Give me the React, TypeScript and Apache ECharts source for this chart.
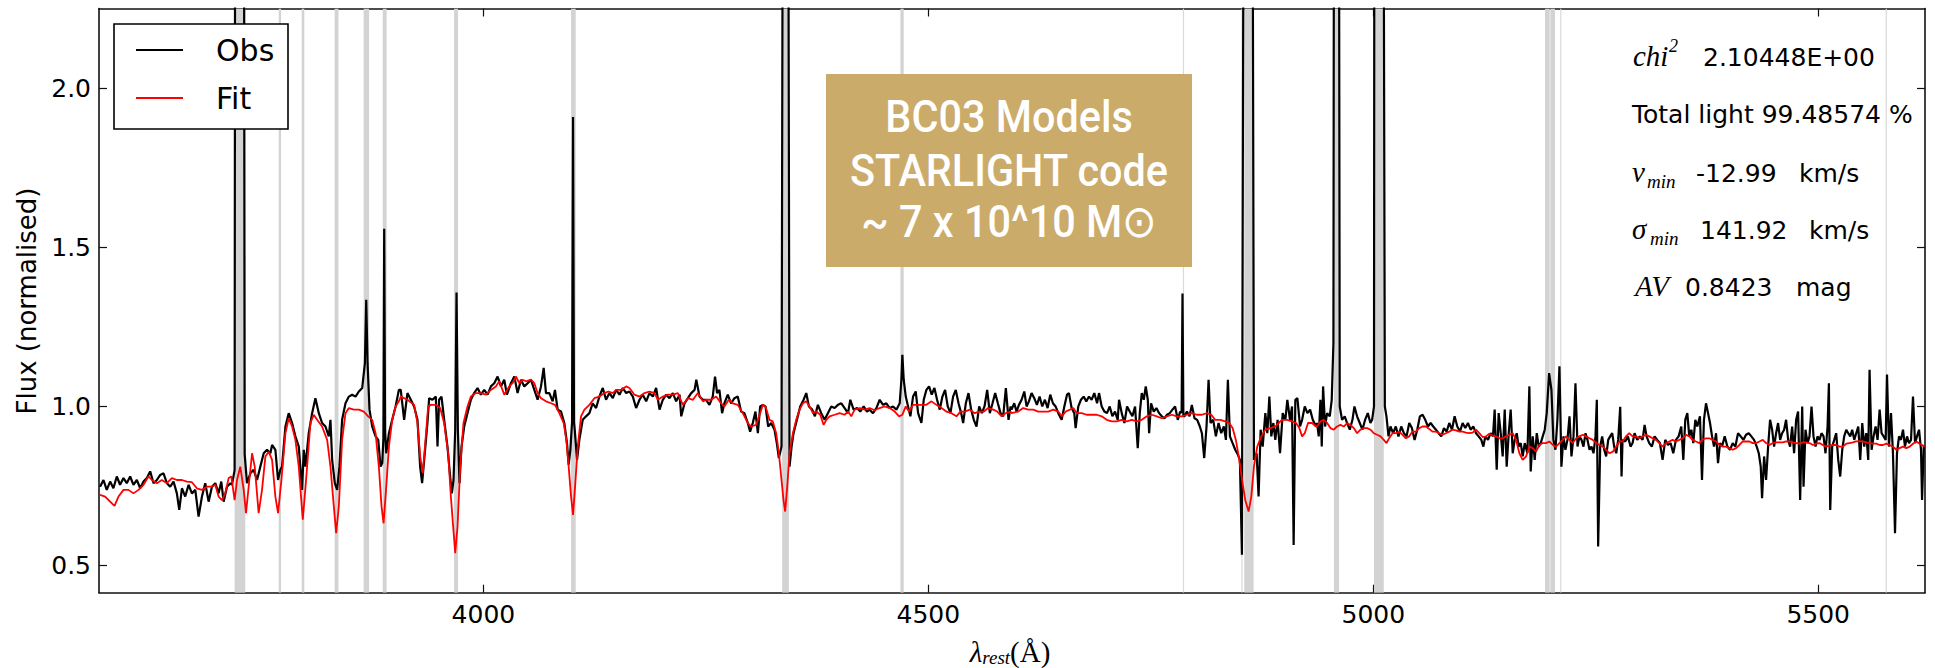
import React, { useEffect, useRef } from 'react';
import * as echarts from 'echarts';

// ---------- axis ranges & ticks ----------
const X_MIN = 3568;
const X_MAX = 5620;
const Y_MIN = 0.415;
const Y_MAX = 2.25;
const xTickValues = [4000, 4500, 5000, 5500];
const yTickValues = [0.5, 1.0, 1.5, 2.0];

// ---------- observed spectrum (wavelength Å, normalised flux) ----------
const obsBlue: [number, number][] = [
  [3569.2,0.748],[3573.0,0.769],[3576.7,0.738],[3580.5,0.764],[3584.2,0.743],[3588.0,0.780],[3591.7,0.754],[3595.5,0.775],[3599.2,0.759],[3603.0,0.780],
  [3606.7,0.754],[3610.5,0.769],[3614.3,0.743],[3618.0,0.764],[3621.8,0.775],[3625.5,0.796],[3629.3,0.759],[3633.0,0.769],[3636.8,0.785],[3640.5,0.790],
  [3644.3,0.759],[3648.0,0.748],[3651.8,0.764],[3655.5,0.727],[3658.2,0.675],[3661.2,0.743],[3664.9,0.717],[3668.7,0.754],[3672.4,0.727],[3676.2,0.738],
  [3679.9,0.654],[3683.7,0.717],[3687.4,0.759],[3691.2,0.701],[3694.9,0.748],[3698.7,0.759],[3702.4,0.727],[3705.4,0.764],[3708.1,0.701],[3711.8,0.748],
  [3715.6,0.759],[3717.4,0.754],[3720.4,0.80],[3721.2,3.5],[3730.6,3.5],[3731.7,0.85],[3734.3,0.759],[3738.1,0.790],[3741.8,0.801],[3745.6,0.769],
  [3749.3,0.811],[3753.1,0.853],[3756.8,0.864],[3760.6,0.853],[3762.5,0.879],[3766.2,0.864],[3769.2,0.769],[3771.8,0.801],[3773.7,0.811],[3777.5,0.937],
  [3781.2,0.979],[3785.0,0.948],[3788.7,0.906],[3792.5,0.874],[3796.2,0.738],[3798.1,0.864],[3800.0,0.811],[3803.7,0.916],[3807.5,0.979],[3811.2,1.026],
  [3815.0,0.979],[3818.7,0.948],[3822.5,0.937],[3826.2,0.906],[3828.1,0.958],[3830.0,0.832],[3833.0,0.759],[3835.6,0.738],[3838.2,0.811],[3841.2,0.958],
  [3845.0,1.010],[3848.8,1.031],[3852.5,1.037],[3856.3,1.031],[3860.0,1.047],[3863.8,1.058],[3866.8,1.136],[3868.3,1.335],[3869.8,1.136],[3872.0,0.990],
  [3875.0,0.937],[3878.8,0.906],[3881.8,0.895],[3884.4,0.811],[3886.3,0.822],[3887.6,0.90],[3888.5,1.558],[3889.5,0.92],[3890.8,0.853],[3893.8,0.916],
  [3897.5,0.958],[3901.3,1.000],[3905.0,1.052],
];
const obsCaHK: [number, number][] = [
  [3907.1,1.052],[3910.9,0.958],[3914.6,1.042],[3918.4,1.021],[3922.1,1.000],[3925.9,0.958],[3928.9,0.811],[3931.1,0.759],[3934.1,0.853],[3937.1,0.948],
  [3939.0,1.026],[3942.7,1.021],[3946.5,1.031],[3948.4,0.874],[3950.2,1.021],[3952.9,1.031],[3955.9,0.958],[3959.6,0.874],[3962.6,0.780],[3964.5,0.727],
  [3966.4,0.769],[3968.3,0.927],[3969.8,1.358],[3971.3,0.927],[3973.1,0.759],[3975.4,0.874],[3978.4,0.937],[3982.1,0.979],[3985.9,1.021],[3989.6,1.042],
  [3993.4,1.058],[3997.1,1.037],[4000.9,1.052],[4004.7,1.037],[4008.4,1.063],[4012.2,1.073],[4015.9,1.094],[4019.7,1.063],[4023.4,1.084],[4026.4,1.037],
  [4030.9,1.073],[4034.7,1.094],[4038.4,1.042],[4042.2,1.084],[4045.9,1.063],[4049.7,1.073],[4053.4,1.084],[4057.2,1.052],[4060.9,1.021],[4064.7,1.063],
  [4067.7,1.121],[4070.3,1.042],[4074.1,1.042],[4077.8,1.016],[4080.4,1.052],[4083.4,0.990],[4087.2,0.984],[4090.9,0.948],[4093.9,0.885],[4095.8,0.817],
  [4097.7,0.864],[4099.6,0.95],[4100.7,1.909],[4101.8,0.95],[4102.6,0.927],[4105.2,0.832],[4107.8,0.895],[4111.6,0.958],[4115.3,0.969],[4119.1,0.979],
  [4122.8,1.010],[4126.6,0.995],[4130.3,1.031],[4134.1,1.058],[4137.8,1.021],[4141.6,1.042],[4145.4,1.026],[4149.1,1.052],[4152.9,1.037],[4156.6,1.058],
  [4160.4,1.042],[4164.1,1.047],[4167.9,1.031],[4171.6,0.995],[4175.4,1.021],[4179.1,1.037],[4182.9,1.016],[4186.6,1.042],[4190.4,1.031],[4194.1,1.058],
  [4197.9,0.990],[4201.6,1.021],[4205.4,1.037],[4209.1,1.026],[4212.9,1.042],[4216.6,1.016],[4220.4,1.037],[4222.3,0.969],[4226.0,1.010],[4229.8,1.026],
  [4233.5,1.042],[4237.3,1.052],[4239.2,1.084],[4242.9,1.031],[4246.7,1.021],
];
const obsHgamma: [number, number][] = [
  [4250.2,1.021],[4254.0,1.005],[4257.7,1.031],[4260.3,1.094],[4262.6,1.042],[4265.2,1.052],[4268.2,0.979],[4270.8,1.010],[4274.6,1.037],[4278.3,1.010],
  [4282.1,1.026],[4285.8,1.031],[4289.6,0.984],[4293.3,0.979],[4297.1,0.948],[4299.7,0.921],[4302.7,0.948],[4305.7,0.984],[4308.4,0.916],[4311.0,1.000],
  [4314.0,1.005],[4317.0,1.000],[4320.0,0.937],[4323.4,0.948],[4327.1,0.927],[4329.7,0.885],[4332.0,0.838],[4335.0,0.874],[4337.0,3.5],[4342.0,3.5],
  [4344.0,0.811],[4346.3,0.874],[4348.5,0.916],[4352.3,0.958],[4356.0,1.000],[4359.8,1.021],[4362.8,1.042],[4365.8,1.000],[4369.5,0.990],[4372.5,0.969],
  [4375.9,1.005],[4379.6,0.979],[4383.4,0.958],[4387.1,0.979],[4390.9,1.000],[4394.7,0.995],[4398.4,1.005],[4402.2,1.010],[4405.9,0.995],[4409.7,0.979],
  [4412.3,1.021],[4416.0,0.990],[4419.8,0.995],[4423.5,0.984],[4427.3,1.000],[4431.0,0.984],[4434.0,0.990],[4437.8,0.979],[4441.6,0.995],[4445.3,1.021],
  [4449.1,1.005],[4452.8,1.010],[4456.6,0.995],[4460.3,1.000],[4464.1,0.990],[4467.8,1.010],[4469.7,1.084],[4470.8,1.162],[4472.3,1.084],[4474.6,1.031],
  [4477.2,1.000],[4479.8,0.969],[4482.8,1.031],[4485.8,1.047],[4488.5,0.979],[4492.2,0.948],[4494.8,1.021],[4497.8,1.052],[4500.8,1.063],[4503.8,1.037],
  [4506.8,1.058],[4509.8,1.021],[4512.8,0.990],[4515.8,1.031],[4518.8,1.052],[4521.8,1.000],[4524.8,0.979],[4527.8,1.031],[4530.8,1.052],[4533.9,1.010],
  [4536.9,0.979],[4539.1,0.948],[4542.1,1.010],[4545.1,1.042],[4548.1,0.990],[4551.1,0.958],[4554.1,0.937],[4557.1,1.000],[4560.1,0.979],[4563.1,1.000],
  [4566.1,1.052],[4569.1,0.979],[4572.1,1.010],[4575.1,1.042],[4578.1,1.010],[4581.1,0.979],[4584.1,0.969],[4587.1,1.058],[4590.1,0.958],[4592.4,1.000],
];
const obsHbeta: [number, number][] = [
  [4593.5,0.990],[4596.5,1.010],[4599.1,0.984],[4601.8,1.005],[4604.8,1.021],[4607.8,1.047],[4610.4,1.000],[4613.0,1.016],[4616.0,1.042],[4619.0,1.026],
  [4622.0,1.005],[4625.0,1.031],[4628.0,1.000],[4631.0,1.021],[4634.0,0.995],[4637.0,1.037],[4640.0,1.010],[4643.0,1.000],[4646.0,0.979],[4649.8,0.958],
  [4652.8,1.000],[4655.8,1.037],[4658.0,1.042],[4661.0,0.995],[4664.0,0.979],[4665.5,0.932],[4668.5,1.000],[4671.5,1.021],[4674.5,1.031],[4677.5,1.016],
  [4680.5,1.031],[4683.5,1.021],[4686.5,1.042],[4689.6,1.010],[4691.8,1.042],[4694.8,1.000],[4697.8,0.984],[4700.8,0.979],[4703.8,1.000],[4706.8,0.969],
  [4709.8,0.984],[4712.8,0.958],[4714.3,1.021],[4717.3,0.979],[4720.3,0.948],[4723.3,1.000],[4726.3,0.984],[4729.3,0.969],[4732.3,1.000],[4735.3,0.869],
  [4737.6,0.979],[4739.8,1.042],[4742.1,1.021],[4744.3,1.063],[4746.6,1.021],[4748.1,0.916],[4750.3,1.010],[4753.3,0.984],[4756.3,0.995],[4759.3,0.979],
  [4762.3,0.969],[4765.3,0.963],[4768.3,0.974],[4771.3,0.979],[4774.3,0.990],[4777.3,1.000],[4780.3,0.958],[4783.0,0.984],[4784.6,0.980],[4785.6,1.355],
  [4786.6,0.970],[4787.9,0.969],[4790.5,0.984],[4793.5,0.969],[4796.1,1.005],[4799.1,0.963],[4802.1,0.958],[4805.1,0.937],[4807.4,0.916],[4810.0,0.838],
  [4812.6,0.937],[4814.9,1.084],[4817.1,0.948],[4820.1,0.958],[4823.1,0.906],[4826.1,0.948],[4829.1,0.916],[4832.1,0.937],[4834.4,0.895],[4836.6,1.084],
  [4838.9,0.906],[4841.9,0.885],[4844.9,0.864],[4847.9,0.848],[4850.1,0.832],[4852.4,0.534],[4855.3,4.0],[4863.3,4.0],[4865.9,0.832],[4868.9,0.853],
  [4871.1,0.717],[4873.4,0.927],[4875.7,0.874],[4878.7,0.979],[4880.9,0.916],[4883.2,1.031],[4885.4,0.906],[4887.7,0.948],[4889.9,0.895],[4892.5,0.958],
  [4895.2,0.853],[4898.2,0.979],[4901.2,0.958],[4903.4,1.021],[4906.4,0.958],[4908.7,1.000],[4910.5,0.565],[4912.4,1.021],[4914.7,1.026],[4917.7,0.937],
  [4920.0,0.958],[4923.0,1.000],[4926.0,0.979],[4929.0,0.990],[4932.0,0.958],[4935.7,0.937],
];
const obsOIII: [number, number][] = [
  [4936.8,0.948],[4938.7,0.906],[4940.6,1.021],[4942.1,0.874],[4943.6,1.063],[4945.8,0.937],[4948.1,0.979],[4951.1,0.969],[4953.3,1.021],[4955.2,1.20],
  [4956.3,4.0],[4960.8,4.0],[4962.3,1.000],[4964.9,0.958],[4967.9,0.969],[4970.6,0.948],[4973.6,0.927],[4976.6,0.958],[4978.8,1.000],[4981.8,0.969],
  [4984.8,0.948],[4987.8,0.927],[4990.8,0.958],[4993.8,0.979],[4996.8,0.948],[4998.7,0.958],[5000.8,1.0],[5001.5,4.0],[5010.5,4.0],[5013.0,1.000],
  [5014.8,0.969],[5017.1,0.906],[5019.3,0.937],[5022.3,0.916],[5025.3,0.937],[5028.3,0.906],[5031.4,0.937],[5034.4,0.916],[5037.4,0.906],[5040.4,0.948],
  [5043.4,0.932],[5046.4,0.895],[5049.4,0.927],[5052.4,0.969],[5055.4,0.974],[5058.4,0.958],[5061.4,0.937],[5064.4,0.948],[5067.4,0.937],[5070.4,0.927],
  [5073.4,0.916],[5076.4,0.906],[5079.4,0.932],[5082.4,0.921],[5085.4,0.948],[5088.4,0.927],[5091.4,0.969],[5094.4,0.937],[5097.4,0.921],[5100.4,0.948],
  [5103.4,0.932],[5106.4,0.948],[5109.4,0.927],[5112.4,0.937],[5115.4,0.916],[5118.4,0.906],[5121.4,0.895],[5123.7,0.874],[5125.9,0.906],[5128.9,0.895],
  [5131.9,0.916],[5134.5,0.906],[5136.4,0.990],[5138.7,0.801],[5140.9,0.979],[5143.2,0.916],[5145.4,0.843],[5147.7,0.990],[5149.9,0.811],[5152.2,0.916],
  [5154.4,0.990],[5156.7,0.853],[5158.9,0.895],[5161.2,0.916],[5163.4,0.874],[5165.7,0.885],[5167.9,0.843],[5170.2,0.885],[5173.2,0.853],[5175.4,1.063],
  [5176.9,0.796],[5179.2,0.906],[5181.4,0.832],[5183.7,0.916],[5185.9,0.874],[5188.2,0.885],[5190.4,0.906],[5192.7,0.927],[5194.9,0.979],[5197.6,1.105],
  [5200.2,1.052],[5202.4,0.895],[5204.7,0.864],[5206.9,0.958],[5209.2,1.126],[5211.4,0.811],[5213.7,0.906],[5215.9,0.864],[5218.2,0.895],[5220.5,0.969],
  [5222.7,0.843],[5225.0,0.906],[5227.2,1.073],[5229.5,0.874],[5231.7,0.906],[5234.0,0.895],[5236.2,0.874],[5238.5,0.916],[5240.7,0.895],[5243.0,0.864],
  [5245.2,0.874],[5247.5,0.853],[5249.7,0.906],[5251.2,1.021],[5252.7,0.560],[5255.0,0.874],[5257.2,0.906],[5259.5,0.864],[5261.7,0.843],[5264.0,0.895],
  [5266.2,0.906],[5268.5,0.916],[5270.7,0.874],[5273.0,0.853],[5275.2,0.895],[5277.5,0.999],[5279.0,0.780],
];
const obsRed: [number, number][] = [
  [5280.1,0.895],[5283.1,0.890],[5286.1,0.906],[5289.1,0.874],[5291.4,0.885],[5293.6,0.916],[5296.6,0.895],[5299.6,0.906],[5302.6,0.895],[5304.9,0.942],
  [5307.1,0.906],[5310.1,0.885],[5313.1,0.874],[5316.1,0.906],[5319.1,0.895],[5322.1,0.885],[5325.1,0.832],[5328.1,0.895],[5331.1,0.879],[5334.1,0.885],
  [5337.1,0.853],[5340.1,0.895],[5343.1,0.906],[5346.1,0.937],[5348.4,0.832],[5350.6,0.958],[5352.9,0.979],[5355.1,0.906],[5357.4,0.927],[5359.6,0.885],
  [5361.9,0.958],[5364.1,0.937],[5367.1,0.969],[5369.4,0.769],[5371.6,0.958],[5373.9,1.010],[5376.2,0.979],[5378.4,0.948],[5380.7,0.906],[5382.9,0.874],
  [5385.2,0.916],[5387.4,0.822],[5389.7,0.885],[5391.9,0.874],[5394.9,0.906],[5397.9,0.874],[5400.9,0.864],[5403.9,0.885],[5406.9,0.874],[5409.9,0.916],
  [5412.9,0.906],[5415.9,0.895],[5418.9,0.911],[5421.9,0.916],[5424.9,0.906],[5427.9,0.895],[5430.9,0.874],[5433.2,0.853],[5435.4,0.811],[5436.9,0.712],
  [5439.2,0.843],[5441.4,0.769],[5443.7,0.874],[5445.9,0.958],[5448.2,0.927],[5450.4,0.874],[5452.7,0.916],[5454.9,0.948],[5457.2,0.895],[5459.4,0.916],
  [5461.7,0.927],[5463.9,0.958],[5466.2,0.895],[5468.4,0.874],[5470.7,0.937],[5472.9,0.853],[5475.2,0.958],[5477.4,0.984],[5479.7,0.706],[5482.0,1.000],
  [5483.5,0.748],[5485.7,0.927],[5488.0,0.885],[5490.2,0.906],[5492.5,1.000],[5494.7,0.906],[5497.0,0.874],[5499.2,0.906],[5501.5,0.895],[5503.7,0.916],
  [5506.0,0.906],[5508.2,0.853],[5510.5,0.937],[5512.0,1.073],[5513.5,0.675],[5515.7,0.874],[5518.0,0.895],[5520.2,0.916],[5522.5,0.832],[5524.7,0.780],
  [5527.0,0.864],[5529.2,0.906],[5531.5,0.927],[5533.7,0.916],[5536.0,0.906],[5538.2,0.927],[5540.5,0.895],[5542.7,0.916],[5545.0,0.937],[5547.2,0.832],
  [5549.5,0.948],[5551.7,0.874],[5554.0,0.916],[5556.2,0.832],[5557.7,1.115],[5560.0,0.864],[5562.2,0.906],[5564.5,0.937],[5566.7,0.895],[5569.0,0.990],
  [5571.2,0.916],[5573.5,0.906],[5575.8,0.895],[5577.3,1.100],[5579.5,0.874],[5581.8,0.979],[5584.0,0.853],[5586.3,0.602],[5588.5,0.853],[5590.8,0.906],
  [5593.0,0.895],[5595.3,0.927],[5597.5,0.874],[5599.8,0.906],[5602.0,0.885],[5604.3,0.895],[5606.5,1.031],[5608.8,0.885],[5611.0,0.906],[5613.3,0.927],
  [5615.5,0.864],[5616.7,0.706],[5618.6,0.874],[5619.7,0.874],
];

// ---------- STARLIGHT fit ----------
const fitBlue: [number, number][] = [
  [3569.2,0.722],[3574.9,0.717],[3580.5,0.701],[3585.4,0.688],[3589.9,0.717],[3595.5,0.738],[3601.1,0.738],[3606.7,0.727],[3612.4,0.738],[3618.0,0.754],
  [3623.6,0.780],[3627.4,0.769],[3633.0,0.759],[3638.6,0.769],[3644.3,0.759],[3649.9,0.775],[3655.5,0.769],[3661.2,0.769],[3666.8,0.764],[3672.4,0.762],
  [3678.0,0.743],[3683.7,0.738],[3689.3,0.748],[3694.9,0.748],[3698.7,0.754],[3702.4,0.717],[3706.2,0.706],[3709.9,0.727],[3713.7,0.775],[3716.7,0.780],
  [3720.4,0.706],[3723.1,0.769],[3726.8,0.811],[3730.6,0.738],[3733.2,0.665],[3736.2,0.748],[3740.0,0.853],[3743.0,0.811],[3747.4,0.665],[3751.2,0.738],
  [3755.0,0.843],[3758.7,0.858],[3762.5,0.832],[3766.2,0.717],[3769.2,0.665],[3773.0,0.769],[3777.5,0.916],[3781.2,0.963],[3785.0,0.937],[3788.7,0.895],
  [3792.5,0.811],[3797.0,0.644],[3800.7,0.769],[3805.6,0.948],[3809.4,0.974],[3813.1,0.958],[3818.7,0.937],[3824.4,0.895],[3828.1,0.811],[3831.9,0.686],
  [3834.5,0.602],[3837.5,0.686],[3841.2,0.895],[3845.0,0.979],[3848.8,0.995],[3854.4,0.990],[3860.0,0.990],[3865.6,0.984],[3870.5,0.969],[3875.0,0.958],
  [3878.8,0.916],[3882.5,0.811],[3885.5,0.686],[3887.8,0.633],[3890.8,0.748],[3893.8,0.874],[3897.5,0.958],[3901.3,1.000],[3905.0,1.016],
];
const fitCaHK: [number, number][] = [
  [3907.1,1.031],[3914.6,1.021],[3922.1,1.005],[3925.9,0.948],[3928.9,0.843],[3931.9,0.790],[3934.9,0.895],[3937.9,1.000],[3940.9,1.005],[3946.5,1.005],
  [3951.4,0.995],[3955.9,0.948],[3960.4,0.853],[3963.4,0.717],[3966.0,0.623],[3968.3,0.539],[3970.9,0.623],[3973.9,0.811],[3977.6,0.948],[3982.1,1.000],
  [3985.9,1.031],[3991.5,1.042],[3997.1,1.042],[4002.8,1.037],[4008.4,1.052],[4014.0,1.063],[4017.8,1.079],[4023.4,1.037],[4029.0,1.063],[4032.8,1.073],
  [4036.5,1.094],[4040.3,1.073],[4044.0,1.084],[4047.8,1.079],[4053.4,1.084],[4057.2,1.073],[4060.9,1.042],[4064.7,1.026],[4070.3,1.016],[4075.9,1.010],
  [4080.4,1.005],[4085.3,0.979],[4090.2,0.948],[4093.2,0.895],[4095.8,0.811],[4098.5,0.717],[4100.7,0.659],[4103.0,0.748],[4106.0,0.874],[4109.7,0.969],
  [4113.5,0.990],[4119.1,1.005],[4124.7,1.026],[4130.3,1.031],[4136.0,1.042],[4140.5,1.047],[4145.4,1.042],[4149.1,1.052],[4154.7,1.052],[4160.4,1.063],
  [4164.1,1.058],[4169.7,1.037],[4175.4,1.031],[4181.0,1.042],[4186.6,1.047],[4192.3,1.042],[4196.0,1.021],[4201.6,1.031],[4207.3,1.037],[4212.9,1.037],
  [4218.5,1.042],[4224.1,1.005],[4229.8,1.026],[4235.4,1.021],[4241.0,1.042],[4246.7,1.016],
];
const fitHgamma: [number, number][] = [
  [4250.2,1.021],[4255.8,1.021],[4261.5,1.031],[4267.1,1.010],[4270.8,1.000],[4275.7,1.021],[4280.2,1.010],[4285.8,1.005],[4291.5,0.979],[4297.1,0.948],
  [4300.9,0.937],[4306.5,0.942],[4311.0,0.979],[4314.0,1.005],[4317.0,1.000],[4321.5,0.958],[4325.2,0.953],[4329.0,0.916],[4332.0,0.853],[4335.0,0.769],
  [4337.2,0.706],[4339.1,0.670],[4341.4,0.748],[4344.0,0.853],[4347.8,0.916],[4351.5,0.958],[4355.3,0.990],[4359.0,1.010],[4362.8,1.016],[4366.5,1.000],
  [4370.3,0.979],[4374.0,0.984],[4378.5,0.974],[4382.3,0.942],[4385.3,0.958],[4389.0,0.969],[4394.7,0.974],[4400.3,0.979],[4405.9,0.974],[4409.7,0.984],
  [4413.4,0.969],[4417.2,0.990],[4422.8,0.995],[4428.4,0.990],[4434.0,0.995],[4439.7,0.988],[4445.3,0.995],[4450.9,1.000],[4456.6,0.995],[4462.2,0.984],
  [4467.1,0.969],[4470.8,0.974],[4474.6,1.000],[4478.3,0.984],[4482.8,1.005],[4487.3,1.005],[4492.2,1.005],[4497.8,1.005],[4503.5,1.016],[4509.1,1.005],
  [4514.7,0.995],[4520.3,0.984],[4526.0,0.979],[4531.6,0.969],[4536.1,0.984],[4541.0,0.984],[4546.6,0.990],[4552.2,0.979],[4557.1,0.984],[4562.4,0.984],
  [4567.2,0.995],[4572.9,0.990],[4577.4,0.984],[4582.3,0.969],[4587.1,0.979],[4592.4,0.984],
];
const fitHbeta: [number, number][] = [
  [4593.5,0.979],[4601.0,0.984],[4606.6,0.995],[4612.3,0.990],[4617.9,0.990],[4623.5,0.984],[4629.1,0.984],[4634.8,0.984],[4640.4,0.990],[4646.0,0.984],
  [4649.8,0.969],[4654.3,0.984],[4659.2,0.990],[4662.9,0.995],[4666.7,0.979],[4672.3,0.979],[4677.9,0.974],[4683.5,0.974],[4689.2,0.974],[4694.8,0.969],
  [4700.4,0.958],[4706.1,0.953],[4711.7,0.953],[4717.3,0.958],[4723.0,0.953],[4728.6,0.958],[4734.2,0.953],[4739.8,0.958],[4745.5,0.969],[4751.1,0.974],
  [4756.7,0.969],[4762.3,0.963],[4768.0,0.969],[4773.6,0.974],[4779.2,0.969],[4784.9,0.969],[4790.5,0.974],[4796.1,0.979],[4801.7,0.974],[4807.4,0.974],
  [4813.0,0.979],[4817.9,0.974],[4822.4,0.958],[4828.0,0.958],[4833.6,0.953],[4838.1,0.948],[4841.9,0.932],[4845.6,0.895],[4849.4,0.832],[4853.1,0.759],
  [4856.1,0.706],[4859.9,0.670],[4862.9,0.717],[4865.9,0.811],[4869.6,0.874],[4874.2,0.906],[4878.7,0.927],[4884.3,0.932],[4889.9,0.937],[4893.7,0.948],
  [4897.4,0.958],[4903.0,0.958],[4908.7,0.953],[4913.2,0.948],[4916.9,0.932],[4920.0,0.906],[4923.0,0.916],[4926.7,0.948],[4931.2,0.948],[4935.7,0.937],
];
const fitOIII: [number, number][] = [
  [4936.8,0.937],[4940.6,0.953],[4944.3,0.958],[4948.1,0.948],[4951.8,0.932],[4955.6,0.927],[4959.3,0.937],[4963.1,0.942],[4966.8,0.937],[4970.6,0.948],
  [4974.3,0.942],[4978.1,0.932],[4981.8,0.916],[4985.6,0.927],[4989.3,0.932],[4993.1,0.932],[4996.8,0.927],[5000.6,0.916],[5004.3,0.911],[5008.1,0.906],
  [5011.8,0.895],[5014.8,0.885],[5017.8,0.900],[5021.6,0.916],[5025.3,0.916],[5029.1,0.921],[5032.9,0.911],[5036.6,0.900],[5040.4,0.906],[5044.1,0.921],
  [5047.9,0.921],[5051.6,0.932],[5055.4,0.937],[5059.1,0.937],[5062.9,0.929],[5066.6,0.921],[5070.4,0.921],[5074.1,0.916],[5077.9,0.911],[5081.6,0.916],
  [5085.4,0.921],[5089.1,0.927],[5092.9,0.925],[5096.6,0.921],[5100.4,0.921],[5104.1,0.918],[5107.9,0.916],[5111.6,0.918],[5115.4,0.927],[5119.1,0.916],
  [5122.9,0.904],[5126.7,0.906],[5130.4,0.914],[5134.2,0.908],[5137.9,0.906],[5141.7,0.900],[5145.4,0.900],[5149.2,0.906],[5152.9,0.911],[5156.7,0.916],
  [5160.4,0.895],[5164.2,0.853],[5167.9,0.832],[5171.7,0.843],[5175.4,0.874],[5179.2,0.869],[5182.9,0.858],[5186.7,0.879],[5190.4,0.885],[5194.2,0.885],
  [5197.9,0.890],[5201.7,0.879],[5205.4,0.874],[5209.2,0.885],[5212.9,0.895],[5216.7,0.906],[5220.5,0.895],[5224.2,0.885],[5228.0,0.900],[5231.7,0.906],
  [5235.5,0.911],[5239.2,0.906],[5243.0,0.900],[5246.7,0.895],[5250.5,0.885],[5254.2,0.879],[5258.0,0.874],[5261.7,0.864],[5265.5,0.853],[5269.2,0.858],
  [5273.0,0.874],[5276.7,0.890],
];
const fitRed: [number, number][] = [
  [5280.1,0.890],[5283.9,0.906],[5287.6,0.916],[5291.4,0.906],[5295.1,0.906],[5298.9,0.900],[5302.6,0.906],[5306.4,0.911],[5310.1,0.906],[5313.9,0.900],
  [5317.6,0.895],[5321.4,0.885],[5325.1,0.874],[5328.9,0.885],[5332.6,0.890],[5336.4,0.895],[5340.1,0.890],[5343.9,0.895],[5347.6,0.900],[5351.4,0.911],
  [5355.1,0.906],[5358.9,0.895],[5362.6,0.890],[5366.4,0.885],[5370.1,0.897],[5373.9,0.900],[5377.7,0.900],[5381.4,0.895],[5385.2,0.890],[5388.9,0.879],
  [5392.7,0.874],[5396.4,0.874],[5400.2,0.869],[5403.9,0.864],[5407.7,0.869],[5411.4,0.879],[5415.2,0.890],[5418.9,0.890],[5422.7,0.890],[5426.4,0.885],
  [5430.2,0.885],[5433.9,0.890],[5437.7,0.895],[5441.4,0.885],[5445.2,0.879],[5448.9,0.885],[5452.7,0.887],[5456.4,0.887],[5460.2,0.887],[5463.9,0.890],
  [5467.7,0.890],[5471.4,0.887],[5475.2,0.885],[5479.0,0.883],[5482.7,0.887],[5486.5,0.887],[5490.2,0.885],[5494.0,0.879],[5497.7,0.883],[5501.5,0.885],
  [5505.2,0.879],[5509.0,0.874],[5512.7,0.877],[5516.5,0.879],[5520.2,0.879],[5524.0,0.874],[5527.7,0.874],[5531.5,0.883],[5535.2,0.885],[5539.0,0.887],
  [5542.7,0.890],[5546.5,0.891],[5550.2,0.890],[5554.0,0.887],[5557.7,0.885],[5561.5,0.883],[5565.2,0.883],[5569.0,0.879],[5572.8,0.879],[5576.5,0.883],
  [5580.3,0.879],[5584.0,0.874],[5587.8,0.864],[5591.5,0.869],[5595.3,0.874],[5599.0,0.869],[5602.8,0.874],[5606.5,0.883],[5610.3,0.890],[5614.0,0.883],
  [5617.8,0.877],[5619.7,0.874],
];

// ---------- masked wavelength windows ----------
const maskBands: [number, number][] = [
  [3720.4, 3732.4], [3770.0, 3772.6], [3795.8, 3798.7], [3832.8, 3837.1], [3865.4, 3871.5], [3886.9, 3891.2],
  [3967.0, 3971.5], [4098.5, 4103.7], [4335.7, 4343.3], [4468.6, 4472.3], [4855.0, 4865.5], [4955.8, 4961.6],
  [5000.8, 5011.8], [5193.0, 5198.3], [5199.0, 5204.2],
];
const thinMaskLines = [4786.7, 4852.4, 5210.7, 5576.5];

// ---------- texts ----------
const legendLabels = ['Obs', 'Fit'];
const boxLines = ['BC03 Models', 'STARLIGHT code', '~ 7 x 10^10 M\u2299'];
const chiValue = '2.10448E+00';
const totalLight = 'Total light 99.48574 %';
const vMin = '-12.99';
const sigmaMin = '141.92';
const avValue = '0.8423';

const SANS = 'DejaVu Sans';
const MATH = 'Liberation Serif';

export default function App() {
  const ref = useRef<HTMLDivElement>(null);

  useEffect(() => {
    if (!ref.current) return;
    const chart = echarts.init(ref.current, undefined, { renderer: 'svg' });

    const obsData = [...obsBlue, ...obsCaHK, ...obsHgamma, ...obsHbeta, ...obsOIII, ...obsRed];
    const fitData = [...fitBlue, ...fitCaHK, ...fitHgamma, ...fitHbeta, ...fitOIII, ...fitRed];

    const axisLineStyle = { color: '#111', width: 1.6 };
    const tickStyle = { color: '#111', width: 1.2 };

    const mathText = (text: string, x: number, y: number, size: number) => ({
      type: 'text', x, y, z: 120,
      style: { text, fontFamily: MATH, fontStyle: 'italic', fontSize: size, fill: '#000', align: 'left', verticalAlign: 'middle' },
    });
    const plainText = (text: string, x: number, y: number, size: number) => ({
      type: 'text', x, y, z: 120,
      style: { text, fontFamily: SANS, fontSize: size, fill: '#000', align: 'left', verticalAlign: 'middle' },
    });

    const option: any = {
      animation: false,
      backgroundColor: '#fff',
      grid: { left: 99, top: 8.5, width: 1826, height: 584.2, containLabel: false },
      xAxis: [
        {
          type: 'value', min: X_MIN, max: X_MAX, position: 'bottom',
          axisLine: { show: true, onZero: false, lineStyle: axisLineStyle },
          axisTick: { show: true, inside: true, length: 8, customValues: xTickValues, lineStyle: tickStyle },
          axisLabel: {
            show: true, customValues: xTickValues, fontFamily: SANS, fontSize: 25, color: '#000', margin: 9,
            formatter: (v: number) => String(Math.round(v)),
          },
          splitLine: { show: false },
        },
        {
          type: 'value', min: X_MIN, max: X_MAX, position: 'top',
          axisLine: { show: true, onZero: false, lineStyle: axisLineStyle },
          axisTick: { show: true, inside: true, length: 8, customValues: xTickValues, lineStyle: tickStyle },
          axisLabel: { show: false },
          splitLine: { show: false },
        },
      ],
      yAxis: [
        {
          type: 'value', min: Y_MIN, max: Y_MAX, position: 'left',
          axisLine: { show: true, onZero: false, lineStyle: axisLineStyle },
          axisTick: { show: true, inside: true, length: 8, customValues: yTickValues, lineStyle: tickStyle },
          axisLabel: {
            show: true, customValues: yTickValues, fontFamily: SANS, fontSize: 25, color: '#000', margin: 8,
            formatter: (v: number) => v.toFixed(1),
          },
          splitLine: { show: false },
        },
        {
          type: 'value', min: Y_MIN, max: Y_MAX, position: 'right',
          axisLine: { show: true, onZero: false, lineStyle: axisLineStyle },
          axisTick: { show: true, inside: true, length: 8, customValues: yTickValues, lineStyle: tickStyle },
          axisLabel: { show: false },
          splitLine: { show: false },
        },
      ],
      series: [
        {
          type: 'custom', name: 'mask', z: 1, silent: true, clip: true,
          xAxisIndex: 0, yAxisIndex: 0,
          data: maskBands,
          encode: { x: [0, 1] },
          renderItem: (_p: any, api: any) => {
            const a = api.coord([api.value(0), Y_MAX]);
            const b = api.coord([api.value(1), Y_MIN]);
            return {
              type: 'rect',
              shape: { x: a[0], y: a[1], width: Math.max(b[0] - a[0], 1), height: b[1] - a[1] },
              style: { fill: '#d3d3d3' },
            };
          },
        },
        {
          type: 'custom', name: 'thinmask', z: 1, silent: true, clip: true,
          xAxisIndex: 0, yAxisIndex: 0,
          data: thinMaskLines.map((v) => [v]),
          encode: { x: 0 },
          renderItem: (_p: any, api: any) => {
            const a = api.coord([api.value(0), Y_MAX]);
            const b = api.coord([api.value(0), Y_MIN]);
            return {
              type: 'line',
              shape: { x1: a[0], y1: a[1], x2: b[0], y2: b[1] },
              style: { stroke: '#dadada', lineWidth: 1.2 },
            };
          },
        },
        {
          type: 'line', name: 'Obs', z: 3, data: obsData, symbol: 'none', showSymbol: false, silent: true, clip: true,
          lineStyle: { color: '#000', width: 2.2 },
        },
        {
          type: 'line', name: 'Fit', z: 4, data: fitData, symbol: 'none', showSymbol: false, silent: true, clip: true,
          lineStyle: { color: '#ff0000', width: 1.8 },
        },
      ],
      graphic: [
        // y axis title
        {
          type: 'text', x: 27, y: 301, rotation: Math.PI / 2, z: 120,
          style: { text: 'Flux (normalised)', fontFamily: SANS, fontSize: 26, fill: '#000', align: 'center', verticalAlign: 'middle' },
        },
        // x axis title
        {
          type: 'text', x: 1010, y: 652, z: 120,
          style: {
            text: '{l|\u03bb}{s|rest}{p|(\u00c5)}',
            align: 'center', verticalAlign: 'middle',
            rich: {
              l: { fontFamily: MATH, fontStyle: 'italic', fontSize: 29, fill: '#000' },
              s: { fontFamily: MATH, fontStyle: 'italic', fontSize: 19, fill: '#000', padding: [10, 0, 0, 0] },
              p: { fontFamily: MATH, fontSize: 29, fill: '#000' },
            },
          },
        },
        // legend
        {
          type: 'rect', z: 110, shape: { x: 114, y: 24, width: 174, height: 105 },
          style: { fill: '#fff', stroke: '#000', lineWidth: 1.6 },
        },
        { type: 'line', z: 111, shape: { x1: 136, y1: 50, x2: 183, y2: 50 }, style: { stroke: '#000', lineWidth: 1.8 } },
        { type: 'line', z: 111, shape: { x1: 136, y1: 98, x2: 183, y2: 98 }, style: { stroke: '#ff0000', lineWidth: 1.8 } },
        plainText(legendLabels[0], 216, 50, 30),
        plainText(legendLabels[1], 216, 98, 30),
        // gold annotation box
        {
          type: 'rect', z: 110, shape: { x: 826, y: 74, width: 366, height: 193 },
          style: { fill: '#cbab69' },
        },
        ...boxLines.map((t, i) => ({
          type: 'text', x: 1009, y: [117, 171, 222][i], z: 115, scaleX: 0.92,
          style: { text: t, fontFamily: 'Roboto', fontWeight: 500, fontSize: 45, fill: '#fff', align: 'center', verticalAlign: 'middle' },
        })),
        // fit statistics
        mathText('chi', 1633, 56, 29),
        mathText('2', 1669, 46, 18),
        plainText(chiValue, 1703, 57, 25),
        plainText(totalLight, 1632, 114, 25),
        mathText('v', 1632, 172, 29),
        mathText('min', 1647, 181, 19),
        plainText(vMin, 1696, 173, 25),
        plainText('km/s', 1799, 173, 25),
        mathText('\u03c3', 1632, 229, 29),
        mathText('min', 1650, 238, 19),
        plainText(sigmaMin, 1700, 230, 25),
        plainText('km/s', 1809, 230, 25),
        mathText('AV', 1635, 286, 29),
        plainText(avValue, 1685, 287, 25),
        plainText('mag', 1796, 287, 25),
      ],
    };

    chart.setOption(option);
    return () => chart.dispose();
  }, []);

  return (
    <div
      ref={ref}
      style={{ position: 'absolute', left: 0, top: 0, width: 1935, height: 668, background: '#fff' }}
    />
  );
}
